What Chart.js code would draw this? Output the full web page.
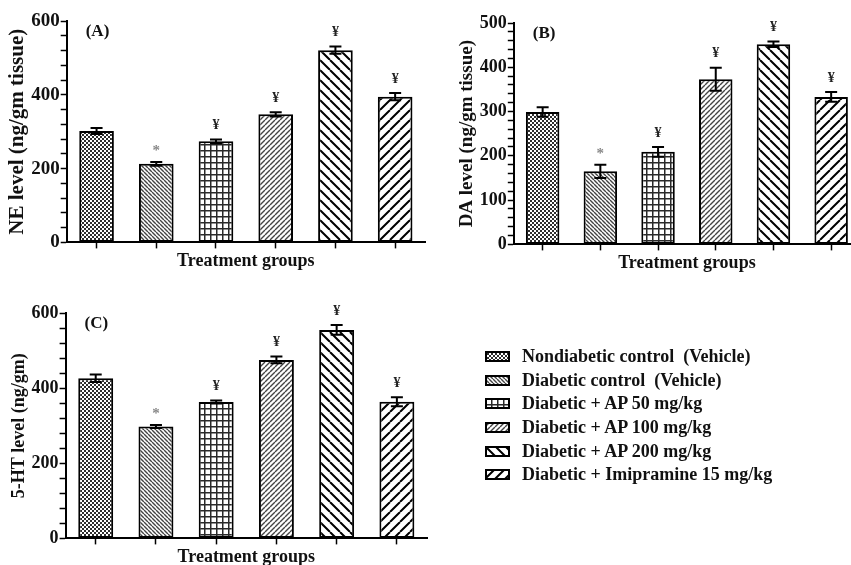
<!DOCTYPE html>
<html>
<head>
<meta charset="utf-8">
<script src="https://cdn.jsdelivr.net/npm/chart.js@4.4.1/dist/chart.umd.min.js"></script>
<style>
  body { margin: 0; background: #fff; }
  #wrap { position: relative; width: 851px; height: 565px; overflow: hidden; background: #fff; }
  canvas { position: absolute; }
  #legend { position: absolute; left: 485px; top: 345px; font: bold 18px "Liberation Serif", "Times New Roman", serif; color: #111; }
  .row { display: flex; align-items: center; height: 23.6px; white-space: pre; }
  .row canvas { position: static; margin-right: 12px; }
</style>
</head>
<body>
<div id="wrap">
  <canvas id="chartA" width="430" height="272" style="left:0;top:0"></canvas>
  <canvas id="chartB" width="440" height="274" style="left:430px;top:0"></canvas>
  <canvas id="chartC" width="430" height="286" style="left:0;top:282px"></canvas>
  <div id="legend"></div>
</div>
<script>
// groups (x categories, one bar each)
const groups = [
  "Nondiabetic control  (Vehicle)",
  "Diabetic control  (Vehicle)",
  "Diabetic + AP 50 mg/kg",
  "Diabetic + AP 100 mg/kg",
  "Diabetic + AP 200 mg/kg",
  "Diabetic + Imipramine 15 mg/kg"
];

// (A) NE level
const neMean = [302, 213, 274, 347, 521, 395];
const neErr = [8, 5, 5, 6, 10, 10];
// (B) DA level
const daMean = [299, 165, 209, 373, 452, 333];
const daErr = [11, 15, 11, 26, 6, 11];
// (C) 5-HT level
const htMean = [426, 298, 363, 475, 555, 364];
const htErr = [10, 4, 4, 9, 13, 12];

// significance marks above each bar
const marks = ["", "*", "¥", "¥", "¥", "¥"];

const patternKinds = ["dots", "fineBack", "grid", "fineFwd", "wideBack", "wideFwd"];
const serif = '"Liberation Serif", "Times New Roman", serif';

function makePattern(ctx, kind) {
  const t = document.createElement("canvas");
  let s = 4;
  if (kind == "grid") s = 6;
  if (kind == "wideBack" || kind == "wideFwd") s = 10;
  if (kind == "fineFwd") s = 5;
  t.width = s; t.height = s;
  const c = t.getContext("2d");
  c.fillStyle = "#fff";
  c.fillRect(0, 0, s, s);
  if (kind == "dots") {
    c.fillStyle = "#2e2e2e";
    c.fillRect(0, 0, 2, 2);
    c.fillRect(2, 2, 2, 2);
  } else if (kind == "grid") {
    c.fillStyle = "#2a2a2a";
    c.fillRect(0, 0, s, 1.5);
    c.fillRect(0, 0, 1.5, s);
  } else {
    const back = kind == "fineBack" || kind == "wideBack";
    c.strokeStyle = kind.startsWith("wide") ? "#000" : "#444";
    c.lineWidth = kind.startsWith("wide") ? 2 : 1.4;
    c.beginPath();
    for (const k of [-s, 0, s]) {
      if (back) { c.moveTo(k, 0); c.lineTo(k + s, s); }
      else { c.moveTo(k, s); c.lineTo(k + s, 0); }
    }
    c.stroke();
  }
  return ctx.createPattern(t, "repeat");
}

// error bars, marks and panel letter
const extras = {
  id: "extras",
  afterDatasetsDraw(chart, args, opts) {
    const ctx = chart.ctx;
    const y = chart.scales.y;
    const bars = chart.getDatasetMeta(0).data;
    ctx.save();
    bars.forEach((bar, i) => {
      const v = opts.mean[i], e = opts.err[i];
      const top = y.getPixelForValue(v + e);
      const bot = y.getPixelForValue(v - e);
      ctx.strokeStyle = "#000";
      ctx.lineWidth = 2;
      ctx.beginPath();
      ctx.moveTo(bar.x, top); ctx.lineTo(bar.x, bot);
      ctx.moveTo(bar.x - 6, top); ctx.lineTo(bar.x + 6, top);
      ctx.moveTo(bar.x - 6, bot); ctx.lineTo(bar.x + 6, bot);
      ctx.stroke();
      if (marks[i]) {
        ctx.fillStyle = marks[i] == "*" ? "#888" : "#222";
        ctx.font = (marks[i] == "*" ? "bold 15px " : "bold 14px ") + serif;
        ctx.textAlign = "center";
        ctx.textBaseline = "middle";
        ctx.fillText(marks[i], bar.x, top - (marks[i] == "*" ? 11 : 14));
      }
    });
    ctx.fillStyle = "#111";
    ctx.font = "bold 17px " + serif;
    ctx.textAlign = "left";
    ctx.textBaseline = "middle";
    ctx.fillText(opts.panel, chart.chartArea.left + 19, chart.chartArea.top + 11);
    ctx.restore();
  }
};

function makeChart(id, mean, err, max, step, major, yTitle, panel, pad, titleSize, tickSize) {
  const ctx = document.getElementById(id).getContext("2d");
  return new Chart(ctx, {
    type: "bar",
    data: {
      labels: groups,
      datasets: [{
        data: mean,
        backgroundColor: patternKinds.map(k => makePattern(ctx, k)),
        borderColor: "#000",
        borderWidth: 2,
        borderSkipped: false,
        barPercentage: 0.58,
        categoryPercentage: 1
      }]
    },
    options: {
      responsive: false,
      devicePixelRatio: 1,
      animation: false,
      layout: { padding: pad },
      plugins: {
        legend: { display: false },
        tooltip: { enabled: false },
        extras: { mean: mean, err: err, panel: panel }
      },
      scales: {
        x: {
          grid: { offset: false, drawOnChartArea: false, tickLength: 6, tickWidth: 1.5, tickColor: "#000" },
          border: { color: "#000", width: 2 },
          ticks: { display: false },
          title: {
            display: true, text: "Treatment groups", color: "#111",
            font: { family: serif, size: 18, weight: "bold" }, padding: { top: 2, bottom: 0 }
          }
        },
        y: {
          min: 0, max: max,
          grid: { drawOnChartArea: false, tickLength: 6, tickWidth: 1.5, tickColor: "#000" },
          border: { color: "#000", width: 2 },
          ticks: {
            stepSize: step, autoSkip: false, padding: 1, color: "#111",
            font: { family: serif, size: tickSize, weight: "bold" },
            callback: v => (v % major === 0 ? v : "")
          },
          title: {
            display: true, text: yTitle, color: "#111",
            font: { family: serif, size: titleSize, weight: "bold" }, padding: { top: 0, bottom: 0 }
          }
        }
      }
    },
    plugins: [extras]
  });
}

makeChart("chartA", neMean, neErr, 600, 40, 200, "NE level (ng/gm tissue)", "(A)", { top: 21, right: 5, left: 5 }, 21, 19);
makeChart("chartB", daMean, daErr, 500, 20, 100, "DA level (ng/gm tissue)", "(B)", { top: 23, right: 10, left: 26 }, 19, 18);
makeChart("chartC", htMean, htErr, 600, 40, 200, "5-HT level (ng/gm)", "(C)", { top: 31, right: 3, left: 9 }, 18, 18);

// legend
const legend = document.getElementById("legend");
groups.forEach((g, i) => {
  const row = document.createElement("div");
  row.className = "row";
  const sw = document.createElement("canvas");
  sw.width = 25; sw.height = 11;
  const c = sw.getContext("2d");
  c.fillStyle = makePattern(c, patternKinds[i]);
  c.fillRect(0, 0, 25, 11);
  c.strokeStyle = "#000";
  c.lineWidth = 2;
  c.strokeRect(1, 1, 23, 9);
  row.appendChild(sw);
  const span = document.createElement("span");
  span.textContent = g;
  row.appendChild(span);
  legend.appendChild(row);
});
</script>
</body>
</html>
